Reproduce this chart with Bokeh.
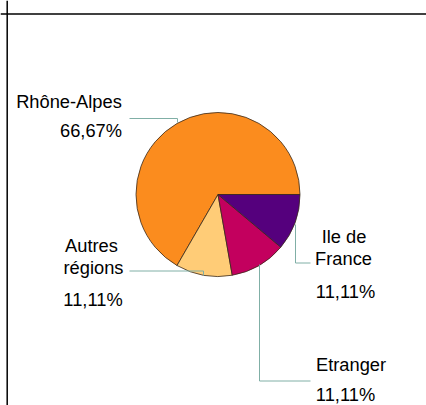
import math
from bokeh.plotting import figure
from bokeh.models import ColumnDataSource, Range1d, Span
from bokeh.core.properties import value
from bokeh.embed import file_html
from bokeh.resources import INLINE

# ---- data ----
names = ["Rhône-Alpes", "Autres régions", "Etranger", "Ile de France"]
values = [66.67, 11.11, 11.11, 11.11]
colors = ["#FB8C1E", "#FFCC77", "#C3005E", "#55007D"]
name_lines = [["Rhône-Alpes"], ["Autres", "régions"], ["Etranger"], ["Ile de", "France"]]

# ---- layout (page pixel coordinates) ----
W, H = 426, 405


def Y(ypix):
    return H - ypix


cx, cy, r = 217.5, Y(194), 82

# label line centres (x, y) per slice: name lines then percent
label_pos = [
    [(68.5, 100.5), (90.5, 130)],
    [(91, 245), (93, 267), (92.5, 299)],
    [(350.5, 364), (345, 393.5)],
    [(343.5, 236), (343, 257.5), (345, 290.5)],
]
leader_pts = [
    [(129, 118), (177, 118), (177, 122)],
    [(129, 270.5), (203, 270.5), (203, 275)],
    [(259, 264), (259, 380.5), (310, 380.5)],
    [(295, 224), (295, 262.5), (310, 262.5)],
]

total = sum(values)
starts, ends = [], []
acc = 0.0
for v in values:
    starts.append(2 * math.pi * acc / total)
    acc += v
    ends.append(2 * math.pi * acc / total)

p = figure(width=W, height=H, output_backend="svg", toolbar_location=None,
           x_range=Range1d(0, W), y_range=Range1d(0, H),
           x_axis_location=None, y_axis_location=None, min_border=0)
p.grid.visible = False
p.outline_line_color = None
p.background_fill_color = "white"
p.border_fill_color = "white"

src = ColumnDataSource(dict(x=[cx] * len(values), y=[cy] * len(values),
                            start=starts, end=ends, color=colors))
p.wedge(x="x", y="y", radius=r, start_angle="start", end_angle="end",
        fill_color="color", line_color="#3a2a1a", line_width=0.8, source=src)

# leader lines
p.multi_line(xs=[[pt[0] for pt in pts] for pts in leader_pts],
             ys=[[Y(pt[1]) for pt in pts] for pts in leader_pts],
             line_color="#80AFA6", line_width=1)

# labels
tx, ty, tt = [], [], []
for i, v in enumerate(values):
    pct = f"{100 * v / total:.2f}%".replace(".", ",")
    lines = name_lines[i] + [pct]
    for (x, y), t in zip(label_pos[i], lines):
        tx.append(x)
        ty.append(Y(y))
        tt.append(t)
p.text(x=tx, y=ty, text=tt, text_align="center", text_baseline="middle",
       text_font=value("Liberation Sans"), text_font_size="18.3px", text_color="black")

# frame (top and left edges)
p.add_layout(Span(location=Y(13.5), dimension="width", line_color="black", line_width=1.5))
p.add_layout(Span(location=6.7, dimension="height", line_color="black", line_width=1.5))

open("out.html", "w").write(file_html(p, INLINE))
